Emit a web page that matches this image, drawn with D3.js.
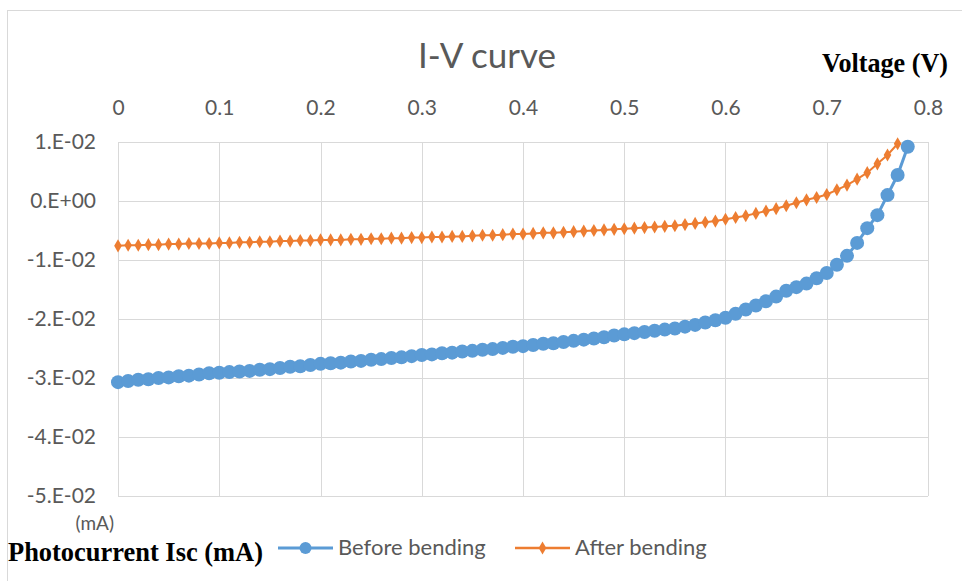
<!DOCTYPE html>
<html>
<head>
<meta charset="utf-8">
<script src="https://cdn.jsdelivr.net/npm/d3@7"></script>
<style>
  body { margin: 0; background: #fff; }
  svg { display: block; }
</style>
</head>
<body>
<div id="chart"></div>
<script>
// Voltage steps (V)
var voltsBefore = [0.00,0.01,0.02,0.03,0.04,0.05,0.06,0.07,0.08,0.09,
  0.10,0.11,0.12,0.13,0.14,0.15,0.16,0.17,0.18,0.19,
  0.20,0.21,0.22,0.23,0.24,0.25,0.26,0.27,0.28,0.29,
  0.30,0.31,0.32,0.33,0.34,0.35,0.36,0.37,0.38,0.39,
  0.40,0.41,0.42,0.43,0.44,0.45,0.46,0.47,0.48,0.49,
  0.50,0.51,0.52,0.53,0.54,0.55,0.56,0.57,0.58,0.59,
  0.60,0.61,0.62,0.63,0.64,0.65,0.66,0.67,0.68,0.69,
  0.70,0.71,0.72,0.73,0.74,0.75,0.76,0.77,0.78];

var currentBefore = [-0.0307,-0.0305,-0.0303,-0.0302,-0.0300,-0.0299,-0.0297,-0.0296,-0.0294,-0.0292,
  -0.0291,-0.0290,-0.0289,-0.0288,-0.0286,-0.0285,-0.0283,-0.0281,-0.0280,-0.0278,
  -0.0276,-0.0275,-0.0274,-0.0272,-0.0271,-0.0269,-0.0268,-0.0266,-0.0265,-0.0263,
  -0.0261,-0.0260,-0.0258,-0.0257,-0.0255,-0.0254,-0.0252,-0.0251,-0.0249,-0.0247,
  -0.0246,-0.0244,-0.0242,-0.0241,-0.0239,-0.0237,-0.0235,-0.0233,-0.0231,-0.0228,
  -0.0226,-0.0224,-0.0222,-0.0220,-0.0218,-0.0216,-0.0213,-0.0210,-0.0206,-0.0202,
  -0.0198,-0.0191,-0.0184,-0.0177,-0.0170,-0.0162,-0.0152,-0.0146,-0.0140,-0.0131,
  -0.0122,-0.0108,-0.0093,-0.0071,-0.0046,-0.0024,0.0010,0.0044,0.0092];

var voltsAfter = [0.00,0.01,0.02,0.03,0.04,0.05,0.06,0.07,0.08,0.09,
  0.10,0.11,0.12,0.13,0.14,0.15,0.16,0.17,0.18,0.19,
  0.20,0.21,0.22,0.23,0.24,0.25,0.26,0.27,0.28,0.29,
  0.30,0.31,0.32,0.33,0.34,0.35,0.36,0.37,0.38,0.39,
  0.40,0.41,0.42,0.43,0.44,0.45,0.46,0.47,0.48,0.49,
  0.50,0.51,0.52,0.53,0.54,0.55,0.56,0.57,0.58,0.59,
  0.60,0.61,0.62,0.63,0.64,0.65,0.66,0.67,0.68,0.69,
  0.70,0.71,0.72,0.73,0.74,0.75,0.76,0.77];

var currentAfter = [-0.0076,-0.0075,-0.0075,-0.0074,-0.0074,-0.0073,-0.0073,-0.0072,-0.0072,-0.0072,
  -0.0071,-0.0071,-0.0070,-0.0070,-0.0069,-0.0069,-0.0068,-0.0068,-0.0067,-0.0067,
  -0.0066,-0.0066,-0.0066,-0.0065,-0.0065,-0.0064,-0.0064,-0.0063,-0.0063,-0.0062,
  -0.0062,-0.0061,-0.0061,-0.0060,-0.0060,-0.0059,-0.0058,-0.0058,-0.0057,-0.0056,
  -0.0056,-0.0055,-0.0054,-0.0054,-0.0053,-0.0052,-0.0051,-0.0050,-0.0049,-0.0048,
  -0.0047,-0.0046,-0.0045,-0.0044,-0.0043,-0.0042,-0.0040,-0.0038,-0.0036,-0.0034,
  -0.0031,-0.0028,-0.0025,-0.0021,-0.0017,-0.0013,-0.0008,-0.0003,0.0002,0.0006,
  0.0011,0.0019,0.0027,0.0037,0.0048,0.0063,0.0078,0.0097];

var xTicks = [0, 0.1, 0.2, 0.3, 0.4, 0.5, 0.6, 0.7, 0.8];
var xTickLabels = ['0', '0.1', '0.2', '0.3', '0.4', '0.5', '0.6', '0.7', '0.8'];
var yTicks = [0.01, 0, -0.01, -0.02, -0.03, -0.04, -0.05];
var yTickLabels = ['1.E-02', '0.E+00', '-1.E-02', '-2.E-02', '-3.E-02', '-4.E-02', '-5.E-02'];
var seriesNames = ['Before bending', 'After bending'];
var seriesColors = ['#5b9bd5', '#ed7d31'];

var width = 962, height = 581;
var sansFont = "Lato, 'Open Sans', sans-serif";
var serifFont = "'Liberation Serif', 'DejaVu Serif', serif";
var labelGray = '#595959';

var svg = d3.select('#chart').append('svg')
  .attr('width', width)
  .attr('height', height);

// chart border
svg.append('rect')
  .attr('x', 7.5)
  .attr('y', 10.5)
  .attr('width', 960)
  .attr('height', 580)
  .attr('fill', 'none')
  .attr('stroke', '#d9d9d9');

var x = d3.scaleLinear().domain([0, 0.8]).range([118, 928]);
var y = d3.scaleLinear().domain([-0.05, 0.01]).range([496, 142]);

// gridlines
var grid = svg.append('g').attr('class', 'grid');
grid.selectAll('.vgrid')
  .data(xTicks)
  .enter()
  .append('line')
  .attr('class', 'vgrid')
  .attr('x1', d => Math.round(x(d)) + 0.5)
  .attr('x2', d => Math.round(x(d)) + 0.5)
  .attr('y1', y(0.01))
  .attr('y2', y(-0.05))
  .attr('stroke', '#d9d9d9');
grid.selectAll('.hgrid')
  .data(yTicks)
  .enter()
  .append('line')
  .attr('class', 'hgrid')
  .attr('x1', x(0))
  .attr('x2', x(0.8))
  .attr('y1', d => Math.round(y(d)) + 0.5)
  .attr('y2', d => Math.round(y(d)) + 0.5)
  .attr('stroke', '#d9d9d9');

// top axis labels
var xAxis = d3.axisTop(x)
  .tickValues(xTicks)
  .tickSize(0)
  .tickPadding(0)
  .tickFormat((d, i) => xTickLabels[i]);
var gx = svg.append('g')
  .attr('transform', 'translate(0,115)')
  .call(xAxis);
gx.select('.domain').remove();
gx.attr('font-family', sansFont).attr('font-size', 21);
gx.selectAll('text')
  .attr('fill', labelGray);

// left axis labels
var yAxis = d3.axisLeft(y)
  .tickValues(yTicks)
  .tickSize(0)
  .tickPadding(0)
  .tickFormat((d, i) => yTickLabels[i]);
var gy = svg.append('g')
  .attr('transform', 'translate(96,0)')
  .call(yAxis);
gy.select('.domain').remove();
gy.attr('font-family', sansFont).attr('font-size', 21);
gy.selectAll('text')
  .attr('fill', labelGray);

// series
var before = voltsBefore.map((v, i) => ({ v: v, c: currentBefore[i] }));
var after = voltsAfter.map((v, i) => ({ v: v, c: currentAfter[i] }));

var line = d3.line()
  .x(d => x(d.v))
  .y(d => y(d.c));

svg.append('path')
  .datum(before)
  .attr('fill', 'none')
  .attr('stroke', seriesColors[0])
  .attr('stroke-width', 3)
  .attr('d', line);

svg.selectAll('.dot-before')
  .data(before)
  .enter()
  .append('circle')
  .attr('class', 'dot-before')
  .attr('cx', d => x(d.v))
  .attr('cy', d => y(d.c))
  .attr('r', 7)
  .attr('fill', seriesColors[0]);

svg.append('path')
  .datum(after)
  .attr('fill', 'none')
  .attr('stroke', seriesColors[1])
  .attr('stroke-width', 2)
  .attr('d', line);

var diamond = d3.symbol().type(d3.symbolDiamond).size(50);
svg.selectAll('.dot-after')
  .data(after)
  .enter()
  .append('path')
  .attr('class', 'dot-after')
  .attr('transform', d => 'translate(' + x(d.v) + ',' + y(d.c) + ')')
  .attr('d', diamond)
  .attr('fill', seriesColors[1]);

// title
svg.append('text')
  .attr('x', 487)
  .attr('y', 68)
  .attr('text-anchor', 'middle')
  .attr('fill', labelGray)
  .style('font-family', sansFont)
  .style('font-size', '35px')
  .text('I-V curve');

svg.append('text')
  .attr('x', 822)
  .attr('y', 72)
  .attr('textLength', 126)
  .attr('lengthAdjust', 'spacingAndGlyphs')
  .attr('fill', '#000')
  .style('font-family', serifFont)
  .style('font-weight', 'bold')
  .style('font-size', '27px')
  .text('Voltage (V)');

svg.append('text')
  .attr('x', 114)
  .attr('y', 530)
  .attr('text-anchor', 'end')
  .attr('fill', labelGray)
  .style('font-family', sansFont)
  .style('font-size', '19px')
  .text('(mA)');

svg.append('text')
  .attr('x', 8)
  .attr('y', 561)
  .attr('textLength', 255)
  .attr('lengthAdjust', 'spacingAndGlyphs')
  .attr('fill', '#000')
  .style('font-family', serifFont)
  .style('font-weight', 'bold')
  .style('font-size', '27px')
  .text('Photocurrent Isc (mA)');

// legend
var legendX = [278, 515];
var legend = svg.selectAll('.legend')
  .data(seriesNames)
  .enter()
  .append('g')
  .attr('class', 'legend')
  .attr('transform', (d, i) => 'translate(' + legendX[i] + ',548)');

legend.append('line')
  .attr('x1', 0)
  .attr('x2', 55)
  .attr('y1', 0)
  .attr('y2', 0)
  .attr('stroke', (d, i) => seriesColors[i])
  .attr('stroke-width', (d, i) => i === 0 ? 3 : 2.5);

legend.each(function(d, i) {
  var g = d3.select(this);
  if (i === 0) {
    g.append('circle')
      .attr('cx', 27.5)
      .attr('cy', 0)
      .attr('r', 6)
      .attr('fill', seriesColors[0]);
  } else {
    g.append('path')
      .attr('transform', 'translate(27.5,0)')
      .attr('d', diamond)
      .attr('fill', seriesColors[1]);
  }
});

legend.append('text')
  .attr('x', 60)
  .attr('y', 7)
  .attr('fill', labelGray)
  .style('font-family', sansFont)
  .style('font-size', '22px')
  .text(d => d);
</script>
</body>
</html>
